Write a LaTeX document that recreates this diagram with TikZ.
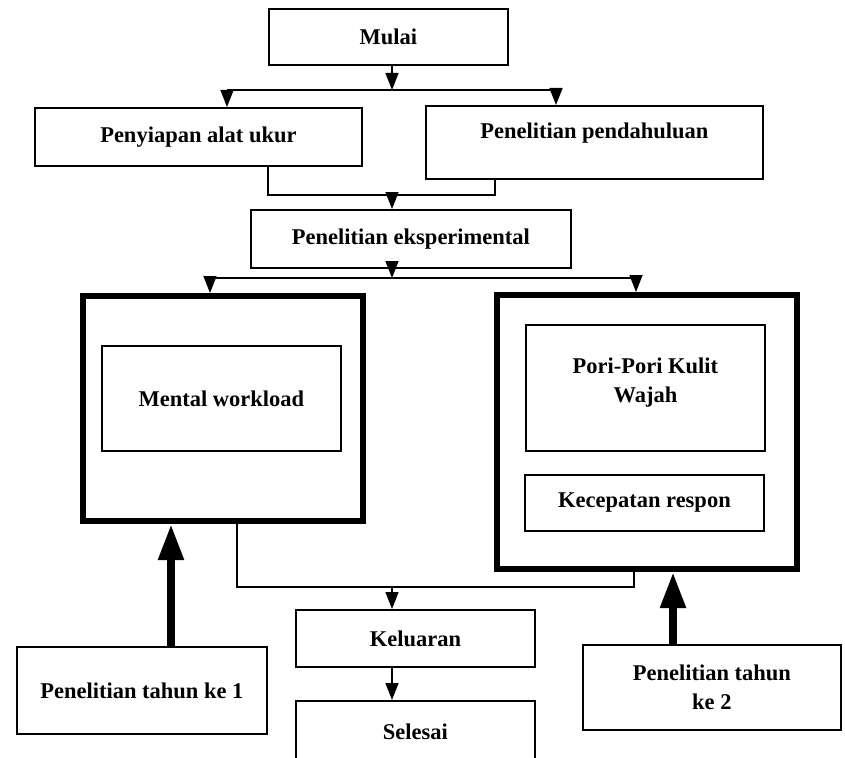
\documentclass[tikz,border=0pt]{standalone}
\usepackage{fontspec}
\setmainfont{Liberation Serif}
\usetikzlibrary{arrows.meta}
\begin{document}
\begin{tikzpicture}[x=1pt,y=1pt,
  box/.style={draw=black, line width=1.8pt, fill=white, anchor=north west, inner sep=0pt,
    align=center, font=\fontsize{22.5}{29}\selectfont\bfseries},
  bigbox/.style={draw=black, line width=6pt, fill=white, anchor=north west, inner sep=0pt},
  conn/.style={draw=black, line width=1.6pt},
  arr/.style={conn, -{Triangle[width=13pt,length=17pt]}},
  fatarr/.style={draw=black, line width=8pt, -{Triangle[width=24pt,length=36pt]}}]
\useasboundingbox (0,0) rectangle (845,-757);
\clip (0,0) rectangle (845,-757);
\fill[white] (0,0) rectangle (845,-757);

% nodes
\node[box, minimum width=239pt, minimum height=56pt] (mulai) at (268,-8) {Mulai};
\node[box, minimum width=327pt, minimum height=58pt] (penyiapan) at (34,-107) {Penyiapan alat ukur};
\node[box, minimum width=337pt, minimum height=73pt, text depth=24pt] (pendahuluan) at (425,-105) {Penelitian pendahuluan};
\node[box, minimum width=320pt, minimum height=58pt] (eksp) at (250,-209) {Penelitian eksperimental};
\node[bigbox, minimum width=280pt, minimum height=225pt] (left) at (80,-293) {};
\node[box, minimum width=239pt, minimum height=105pt] (mental) at (101,-345) {Mental workload};
\node[bigbox, minimum width=300pt, minimum height=274pt] (right) at (494,-292) {};
\node[box, minimum width=239pt, minimum height=126pt, text depth=16pt] (pori) at (525,-324) {Pori-Pori Kulit\\Wajah};
\node[box, minimum width=239pt, minimum height=56pt] (kecepatan) at (524,-474) {Kecepatan respon};
\node[box, minimum width=239pt, minimum height=57pt] (keluaran) at (295,-609) {Keluaran};
\node[box, minimum width=239pt, minimum height=62pt] (selesai) at (295,-700) {Selesai};
\node[box, minimum width=250pt, minimum height=87pt] (tahun1) at (16,-646) {Penelitian tahun ke 1};
\node[box, minimum width=258pt, minimum height=85pt] (tahun2) at (582,-644) {Penelitian tahun\\ke 2};

% junction coordinates
\coordinate (j1) at (392,-90);
\coordinate (j1l) at (227,-90);
\coordinate (j1r) at (556,-90);
\coordinate (j2l) at (268,-195);
\coordinate (j2r) at (495,-195);
\coordinate (j2) at (392,-195);
\coordinate (j3) at (392,-278);
\coordinate (j3l) at (210,-278);
\coordinate (j3r) at (636,-278);
\coordinate (j4l) at (237,-587);
\coordinate (j4r) at (634,-587);
\coordinate (j4) at (392,-587);
\coordinate (f1) at (171,-600);
\coordinate (f2) at (673,-600);

% connectors
\draw[arr] (mulai.south -| j1) -- (j1);
\draw[conn] (j1l) -- (j1r);
\draw[arr] (j1l) -- (j1l |- penyiapan.north);
\draw[arr] (j1r) -- (j1r |- pendahuluan.north);
\draw[conn] (j2l |- penyiapan.south) -- (j2l) -- (j2r) -- (j2r |- pendahuluan.south);
\draw[arr] (j2) -- (eksp.north -| j2);
\draw[arr] (eksp.south -| j3) -- (j3);
\draw[conn] (j3l) -- (j3r);
\draw[arr] (j3l) -- (j3l |- left.north);
\draw[arr] (j3r) -- (j3r |- right.north);
\draw[conn] (j4l |- left.south) -- (j4l) -- (j4r) -- (j4r |- right.south);
\draw[arr] (j4) -- (keluaran.north -| j4);
\draw[arr] (keluaran.south -| j4) -- (selesai.north -| j4);
\draw[fatarr] (tahun1.north -| f1) -- (left.south -| f1);
\draw[fatarr] (tahun2.north -| f2) -- (right.south -| f2);
\end{tikzpicture}
\end{document}
